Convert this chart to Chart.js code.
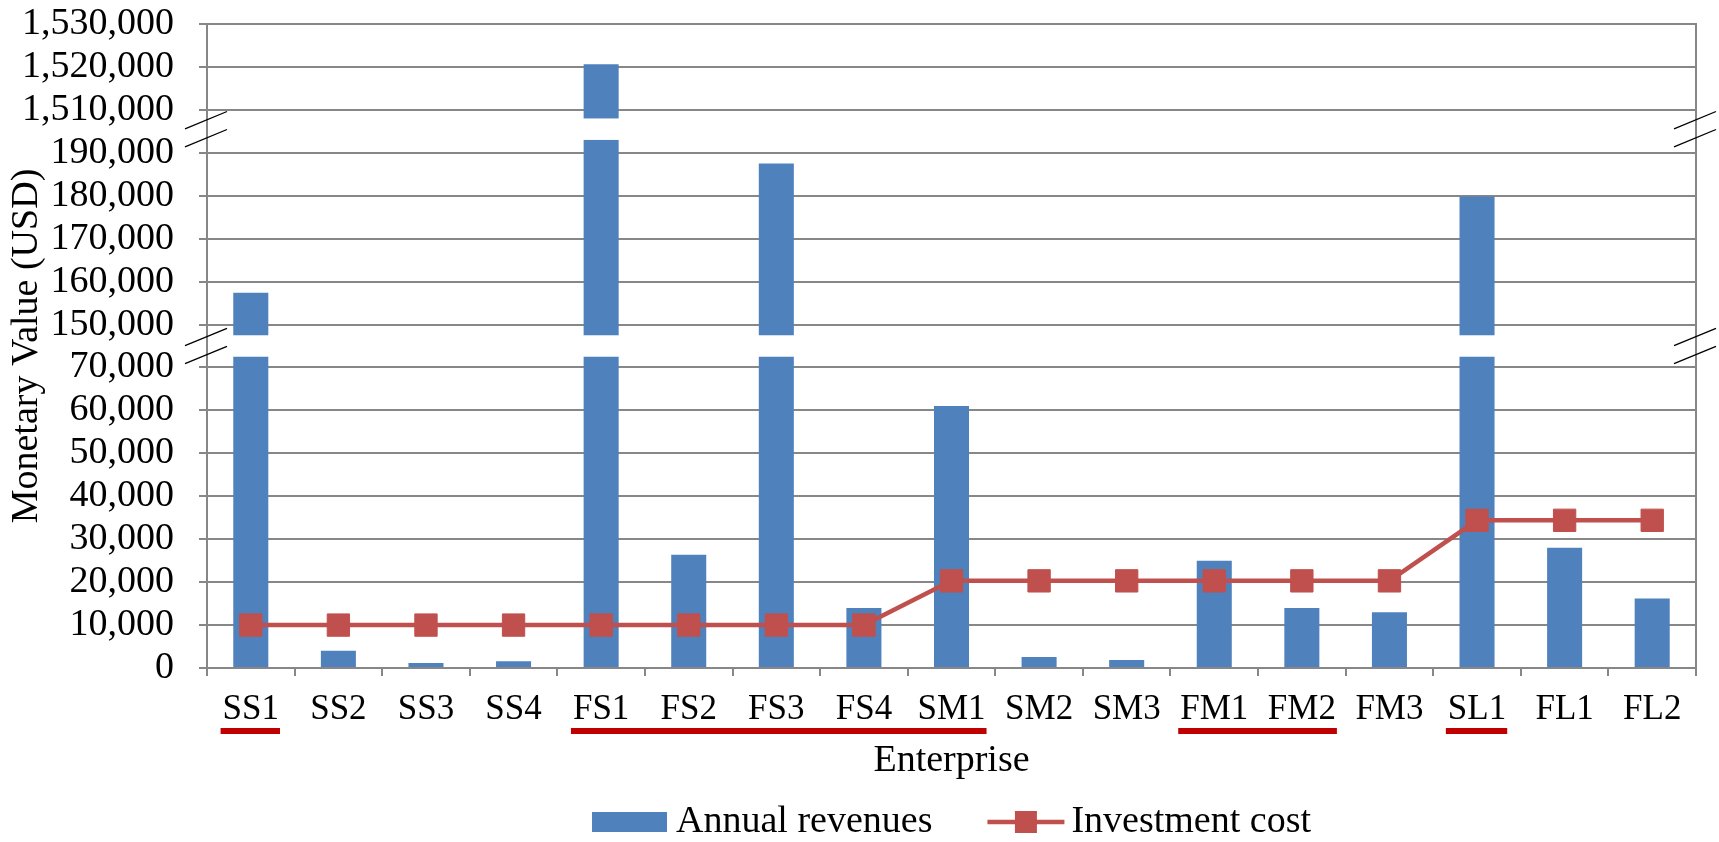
<!DOCTYPE html>
<html>
<head>
<meta charset="utf-8">
<title>Annual revenues and investment cost by enterprise</title>
<script src="https://cdn.jsdelivr.net/npm/chart.js@4.4.1/dist/chart.umd.min.js"></script>
<style>
  html, body { margin: 0; padding: 0; background: #fff; }
  canvas { display: block; }
</style>
</head>
<body>
<canvas id="chart" width="1719" height="842"></canvas>
<script>
// ===== Data =====
const enterprises = ["SS1", "SS2", "SS3", "SS4", "FS1", "FS2", "FS3", "FS4", "SM1",
  "SM2", "SM3", "FM1", "FM2", "FM3", "SL1", "FL1", "FL2"];
const annualRevenues = [157400, 4000, 1150, 1550, 1520600, 26400, 187500, 14000, 61000,
  2550, 1850, 25000, 14000, 13000, 179800, 28000, 16200];
const investmentCost = [10000, 10000, 10000, 10000, 10000, 10000, 10000, 10000, 20300,
  20300, 20300, 20300, 20300, 20300, 34400, 34400, 34400];

// y axis is broken: every step between two listed ticks gets the same height
const yTicks = [0, 10000, 20000, 30000, 40000, 50000, 60000, 70000,
  150000, 160000, 170000, 180000, 190000,
  1510000, 1520000, 1530000];

// enterprises underlined in red below the axis (first, last of each run)
const underlined = [["SS1", "SS1"], ["FS1", "SM1"], ["FM1", "FM2"], ["SL1", "SL1"]];

const seriesNames = ["Annual revenues", "Investment cost"];
const xTitle = "Enterprise";
const yTitle = "Monetary Value (USD)";

// ===== Styles =====
const FONT = "'Liberation Serif', 'Times New Roman', serif";
const BLUE = "#4F81BD";
const RED = "#C0504D";
const GRID = "#878787";
const breakBands = [[7.25, 7.75], [12.3, 12.8]]; // in tick steps

// real value -> position counted in tick steps
function toSteps(v) {
  for (let i = 0; i < yTicks.length - 1; i++) {
    const a = yTicks[i], b = yTicks[i + 1];
    if (v <= b || i === yTicks.length - 2) return i + (v - a) / (b - a);
  }
  return 0;
}

class BrokenLinearScale extends Chart.LinearScale {
  static id = "brokenLinear";
  static defaults = {};
  determineDataLimits() {
    this.min = 0;
    this.max = yTicks[yTicks.length - 1];
  }
  buildTicks() {
    return yTicks.map(value => ({ value }));
  }
  getPixelForSteps(s) {
    return this.getPixelForDecimal(s / (yTicks.length - 1));
  }
  getPixelForValue(value) {
    return this.getPixelForSteps(toSteps(value));
  }
}
Chart.register(BrokenLinearScale);

// white gaps in the tall bars + the // marks on both axes
const brokenAxisPlugin = {
  id: "brokenAxis",
  afterDatasetDraw(chart, args) {
    if (args.index !== 0) return;
    const y = chart.scales.y;
    const ctx = chart.ctx;
    ctx.save();
    ctx.fillStyle = "#fff";
    breakBands.forEach(([lo, hi]) => {
      const top = y.getPixelForSteps(hi);
      const bottom = y.getPixelForSteps(lo);
      args.meta.data.forEach(bar => {
        if (bar.y < bottom) ctx.fillRect(bar.x - bar.width / 2 - 1, top, bar.width + 2, bottom - top);
      });
    });
    ctx.restore();
  },
  afterDraw(chart) {
    const y = chart.scales.y;
    const { left, right } = chart.chartArea;
    const ctx = chart.ctx;
    ctx.save();
    ctx.strokeStyle = "#000";
    ctx.lineWidth = 1.3;
    breakBands.forEach(([lo, hi]) => {
      const yc = y.getPixelForSteps((lo + hi) / 2);
      [left, right].forEach(x => {
        [-9, 9].forEach(off => {
          ctx.beginPath();
          ctx.moveTo(x - 22, yc + off + 8.7);
          ctx.lineTo(x + 20, yc + off - 8.7);
          ctx.stroke();
        });
      });
    });
    ctx.restore();
  }
};

// red bars under groups of category labels
const underlinePlugin = {
  id: "underline",
  afterDraw(chart) {
    const x = chart.scales.x;
    const ctx = chart.ctx;
    ctx.save();
    ctx.font = "35px " + FONT;
    ctx.fillStyle = "#C00000";
    underlined.forEach(([first, last]) => {
      const l = x.getPixelForValue(enterprises.indexOf(first)) - ctx.measureText(first).width / 2 - 2;
      const r = x.getPixelForValue(enterprises.indexOf(last)) + ctx.measureText(last).width / 2 + 1;
      ctx.fillRect(l, x.top + 60, r - l, 6);
    });
    ctx.restore();
  }
};

// legend: bar swatch, then line with square marker
const legendPlugin = {
  id: "bottomLegend",
  afterDraw(chart) {
    const ctx = chart.ctx;
    const { left, right } = chart.chartArea;
    const yc = chart.height - 20;
    ctx.save();
    ctx.font = "38px " + FONT;
    ctx.textBaseline = "middle";
    ctx.fillStyle = "#000";
    const w0 = ctx.measureText(seriesNames[0]).width;
    const w1 = ctx.measureText(seriesNames[1]).width;
    const total = 75 + 9 + w0 + 55 + 77 + 7 + w1;
    let x = (left + right) / 2 - total / 2;

    ctx.fillStyle = BLUE;
    ctx.fillRect(x, yc - 10, 75, 20);
    x += 84;
    ctx.fillStyle = "#000";
    ctx.fillText(seriesNames[0], x, yc);
    x += w0 + 55;

    ctx.strokeStyle = RED;
    ctx.lineWidth = 4.5;
    ctx.beginPath();
    ctx.moveTo(x, yc);
    ctx.lineTo(x + 77, yc);
    ctx.stroke();
    ctx.fillStyle = RED;
    ctx.fillRect(x + 38.5 - 11, yc - 11, 22, 22);
    x += 84;
    ctx.fillStyle = "#000";
    ctx.fillText(seriesNames[1], x, yc);
    ctx.restore();
  }
};

// ===== Chart =====
const ctx = document.getElementById("chart").getContext("2d");
new Chart(ctx, {
  data: {
    labels: enterprises,
    datasets: [
      {
        type: "bar",
        label: seriesNames[0],
        data: annualRevenues,
        backgroundColor: BLUE,
        barPercentage: 0.4,
        categoryPercentage: 1.0,
        order: 2
      },
      {
        type: "line",
        label: seriesNames[1],
        data: investmentCost,
        borderColor: RED,
        borderWidth: 4.5,
        backgroundColor: RED,
        pointStyle: "rect",
        pointRadius: 15.8,
        pointBackgroundColor: RED,
        pointBorderColor: RED,
        pointBorderWidth: 1,
        tension: 0,
        order: 1
      }
    ]
  },
  options: {
    responsive: false,
    animation: false,
    devicePixelRatio: 1,
    events: [],
    layout: { padding: { left: 0, top: 24, right: 23, bottom: 0 } },
    plugins: {
      legend: { display: false },
      tooltip: { enabled: false }
    },
    scales: {
      x: {
        type: "category",
        offset: true,
        grid: {
          offset: true,
          drawOnChartArea: false,
          tickLength: 8,
          color: GRID,
          lineWidth: 2
        },
        border: { color: GRID, width: 2 },
        ticks: {
          color: "#000",
          padding: 13,
          maxRotation: 0,
          autoSkip: false,
          font: { family: FONT, size: 35 }
        },
        title: {
          display: true,
          text: xTitle,
          color: "#000",
          font: { family: FONT, size: 38 },
          padding: { top: 0, bottom: 58 }
        },
        afterFit(scale) { scale.height = 174; }
      },
      y: {
        type: "brokenLinear",
        position: "left",
        grid: { color: GRID, lineWidth: 2, tickLength: 8 },
        border: { color: GRID, width: 2 },
        ticks: {
          color: "#000",
          padding: 25,
          autoSkip: false,
          font: { family: FONT, size: 38 },
          callback: v => v.toLocaleString("en-US")
        },
        title: {
          display: true,
          text: yTitle,
          color: "#000",
          font: { family: FONT, size: 38 },
          padding: { top: 4, bottom: 0 }
        },
        afterFit(scale) {
          scale.width = 207;
          scale.paddingTop = 0;
          scale.paddingBottom = 0;
        }
      },
      yRight: {
        type: "linear",
        position: "right",
        ticks: { display: false },
        grid: { drawOnChartArea: false, drawTicks: false },
        border: { color: GRID, width: 2 },
        afterFit(scale) {
          scale.width = 0;
          scale.paddingTop = 0;
          scale.paddingBottom = 0;
        }
      }
    }
  },
  plugins: [brokenAxisPlugin, underlinePlugin, legendPlugin]
});
</script>
</body>
</html>
